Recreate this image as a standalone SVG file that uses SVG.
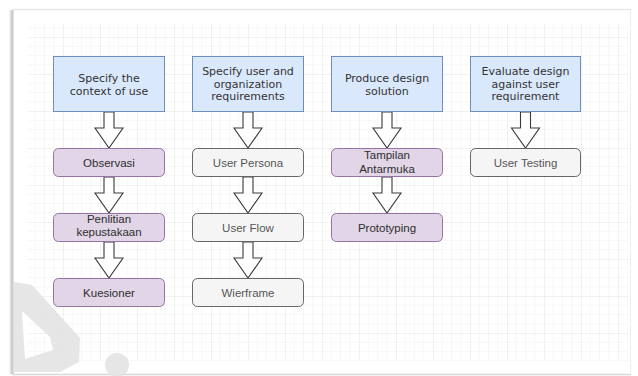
<svg xmlns="http://www.w3.org/2000/svg" width="638" height="376" viewBox="0 0 638 376">
  <defs>
    <pattern id="grid" x="26" y="0" width="37" height="37" patternUnits="userSpaceOnUse">
      <path d="M9.25 0V37M18.5 0V37M27.75 0V37M0 9.25H37M0 18.5H37M0 27.75H37" stroke="#f7f7f7" stroke-width="1" fill="none"/>
      <path d="M0 0V37M0 0H37" stroke="#e4e4e4" stroke-width="1" fill="none"/>
    </pattern>
    <linearGradient id="lshadow" x1="0" x2="1" y1="0" y2="0">
      <stop offset="0" stop-color="#ffffff"/>
      <stop offset="0.6" stop-color="#c4c4c4"/>
      <stop offset="1" stop-color="#e8e8e8"/>
    </linearGradient>
  </defs>
  <style>
    .blue { fill: #dae8fc; stroke: #6c8ebf; stroke-width: 1; }
    .purple { fill: #e1d5e7; stroke: #9673a6; stroke-width: 1; }
    .gray { fill: #f5f5f5; stroke: #666666; stroke-width: 1; }
    .arrow { fill: #ffffff; stroke: #3a3a3a; stroke-width: 1.1; stroke-linejoin: miter; }
    .t1 { font-family: "DejaVu Sans", Verdana, sans-serif; font-size: 11px; fill: #333333; text-anchor: middle; }
    .t2 { font-family: "Liberation Sans", Arial, sans-serif; font-size: 11.5px; fill: #2e2e2e; text-anchor: middle; }
    .t3 { font-family: "Liberation Sans", Arial, sans-serif; font-size: 11.5px; fill: #555555; text-anchor: middle; }
  </style>

  <!-- page / frame -->
  <rect x="0" y="0" width="638" height="376" fill="#ffffff"/>
  <rect x="12" y="10" width="619" height="364" fill="#ffffff"/>
  <rect x="9" y="10" width="5" height="364" fill="url(#lshadow)"/>
  <line x1="12" y1="9.5" x2="631" y2="9.5" stroke="#e6e6e6" stroke-width="1.5"/>
  <line x1="12" y1="374.5" x2="631" y2="374.5" stroke="#d8d8d8" stroke-width="1.5"/>
  <line x1="630.5" y1="10" x2="630.5" y2="374" stroke="#ececec" stroke-width="1"/>

  <!-- grid -->
  <rect x="28" y="24" width="600" height="337" fill="url(#grid)"/>

  <!-- watermark -->
  <g id="watermark" fill="#e4e4e4" opacity="0.9">
    <path fill-rule="evenodd" d="M14 282 L32 285 L80 338 L79 362 L60 372 L14 372 Z M22 311 L50 337 L53 350 L25 359 Z"/>
    <circle cx="117" cy="365" r="12"/>
  </g>

  <!-- connectors -->
  <g id="connectors">
    <path class="arrow" d="M104 112H114V128H123L109 148L95 128H104Z"/>
    <path class="arrow" d="M104 177H114V193H123L109 213L95 193H104Z"/>
    <path class="arrow" d="M104 242H114V258H123L109 278L95 258H104Z"/>
    <path class="arrow" d="M243 112H253V128H262L248 148L234 128H243Z"/>
    <path class="arrow" d="M243 177H253V193H262L248 213L234 193H243Z"/>
    <path class="arrow" d="M243 242H253V258H262L248 278L234 258H243Z"/>
    <path class="arrow" d="M382 112H392V128H401L387 148L373 128H382Z"/>
    <path class="arrow" d="M382 177H392V193H401L387 213L373 193H382Z"/>
    <path class="arrow" d="M520.5 112H530.5V128H539.5L525.5 148L511.5 128H520.5Z"/>
  </g>

  <!-- header nodes -->
  <g id="specify-context">
    <rect class="blue" x="53.5" y="56.5" width="111" height="55"/>
    <text class="t1" x="109" y="82">Specify the</text>
    <text class="t1" x="109" y="94.5">context of use</text>
  </g>
  <g id="specify-requirements">
    <rect class="blue" x="192.5" y="56.5" width="111" height="55"/>
    <text class="t1" x="248" y="75">Specify user and</text>
    <text class="t1" x="248" y="87.5">organization</text>
    <text class="t1" x="248" y="100">requirements</text>
  </g>
  <g id="produce-design">
    <rect class="blue" x="331.5" y="56.5" width="111" height="55"/>
    <text class="t1" x="387" y="82">Produce design</text>
    <text class="t1" x="387" y="94.5">solution</text>
  </g>
  <g id="evaluate-design">
    <rect class="blue" x="470.5" y="56.5" width="110" height="55"/>
    <text class="t1" x="525.5" y="75">Evaluate design</text>
    <text class="t1" x="525.5" y="87.5">against user</text>
    <text class="t1" x="525.5" y="100">requirement</text>
  </g>

  <!-- column 1 -->
  <g id="observasi">
    <rect class="purple" x="53.5" y="148.5" width="111" height="28" rx="5"/>
    <text class="t2" x="109" y="166.5">Observasi</text>
  </g>
  <g id="penelitian">
    <rect class="purple" x="53.5" y="213.5" width="111" height="28" rx="5"/>
    <text class="t2" x="109" y="222.5">Penlitian</text>
    <text class="t2" x="109" y="236">kepustakaan</text>
  </g>
  <g id="kuesioner">
    <rect class="purple" x="53.5" y="278.5" width="111" height="28" rx="5"/>
    <text class="t2" x="109" y="296.5">Kuesioner</text>
  </g>

  <!-- column 2 -->
  <g id="user-persona">
    <rect class="gray" x="192.5" y="148.5" width="111" height="28" rx="5"/>
    <text class="t3" x="248" y="166.5">User Persona</text>
  </g>
  <g id="user-flow">
    <rect class="gray" x="192.5" y="213.5" width="111" height="28" rx="5"/>
    <text class="t3" x="248" y="231.5">User Flow</text>
  </g>
  <g id="wierframe">
    <rect class="gray" x="192.5" y="278.5" width="111" height="28" rx="5"/>
    <text class="t3" x="248" y="296.5">Wierframe</text>
  </g>

  <!-- column 3 -->
  <g id="tampilan">
    <rect class="purple" x="331.5" y="148.5" width="111" height="28" rx="5"/>
    <text class="t2" x="387" y="159">Tampilan</text>
    <text class="t2" x="387" y="172.5">Antarmuka</text>
  </g>
  <g id="prototyping">
    <rect class="purple" x="331.5" y="213.5" width="111" height="28" rx="5"/>
    <text class="t2" x="387" y="231.5">Prototyping</text>
  </g>

  <!-- column 4 -->
  <g id="user-testing">
    <rect class="gray" x="470.5" y="148.5" width="110" height="28" rx="5"/>
    <text class="t3" x="525.5" y="166.5">User Testing</text>
  </g>
</svg>
